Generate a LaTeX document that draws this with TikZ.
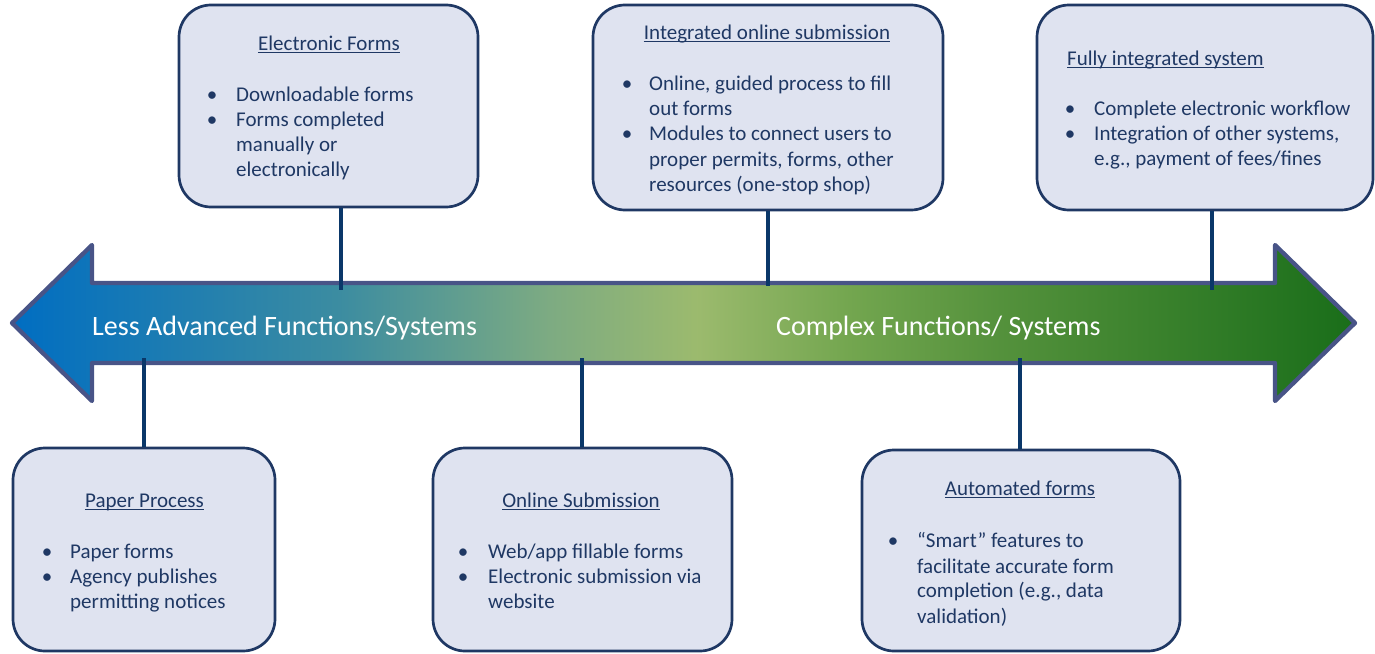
\documentclass[tikz,border=0pt]{standalone}
\usepackage{fontspec}
\setmainfont{Carlito}
\definecolor{navy}{RGB}{31,56,100}
\definecolor{boxfill}{RGB}{223,227,240}
\definecolor{arrowline}{RGB}{72,84,135}
\definecolor{connc}{RGB}{10,55,105}
\pgfdeclarehorizontalshading{arrowshade}{100bp}{rgb(0bp)=(0,0.43,0.76); rgb(25bp)=(0,0.43,0.76); rgb(37.2bp)=(0.235,0.55,0.63); rgb(45bp)=(0.49,0.67,0.51); rgb(50.5bp)=(0.61,0.73,0.43); rgb(56.2bp)=(0.45,0.65,0.31); rgb(61.75bp)=(0.33,0.57,0.235); rgb(75bp)=(0.1,0.43,0.1); rgb(100bp)=(0.1,0.43,0.1)}
\tikzset{
  infobox/.style={draw=navy, fill=boxfill, line width=2.7pt, rounded corners=32pt, inner sep=0pt},
  txt/.style={inner sep=0pt, text=navy, font=\fontsize{21pt}{25pt}\selectfont},
  bigtxt/.style={inner sep=0pt, text=white, font=\fontsize{28pt}{34pt}\selectfont},
  uline/.style={draw=navy, line width=1.3pt},
  connector/.style={draw=connc, line width=3.4pt},
}
\begin{document}
\begin{tikzpicture}[x=1pt,y=-1pt]
\useasboundingbox (0,0) rectangle (1375,653);
% main double arrow
\path[shade, shading=arrowshade, draw=arrowline, line width=4.3pt, line join=round]
  (12,323) -- (92,245) -- (92,283) -- (1275,283) -- (1275,245) -- (1355,323)
  -- (1275,401) -- (1275,363) -- (92,363) -- (92,401) -- cycle;
\node[bigtxt, anchor=base west] (lessadv) at (92,335) {Less Advanced Functions/Systems};
\node[bigtxt, anchor=base west] (complex) at (776,335) {Complex Functions/ Systems};
% connector end points on the arrow
\coordinate (c1) at (341,290);
\coordinate (c2) at (768,286);
\coordinate (c3) at (1212,290);
\coordinate (c4) at (144,358);
\coordinate (c5) at (582,358);
\coordinate (c6) at (1020,358);
% boxes
\node[infobox, minimum width=299pt, minimum height=202pt] (b1) at (328.5,106) {};
\node[infobox, minimum width=350pt, minimum height=205pt] (b2) at (768,107.5) {};
\node[infobox, minimum width=336pt, minimum height=205pt] (b3) at (1205,107.5) {};
\node[infobox, minimum width=262pt, minimum height=203pt] (b4) at (144,549.5) {};
\node[infobox, minimum width=299pt, minimum height=203pt] (b5) at (582.5,549.5) {};
\node[infobox, minimum width=318pt, minimum height=201pt] (b6) at (1021,550.5) {};
% connectors
\draw[connector] (c1 |- b1.south) -- (c1);
\draw[connector] (c2 |- b2.south) -- (c2);
\draw[connector] (c3 |- b3.south) -- (c3);
\draw[connector] (c4 |- b4.north) -- (c4);
\draw[connector] (c5 |- b5.north) -- (c5);
\draw[connector] (c6 |- b6.north) -- (c6);
% Box 1: Electronic Forms
\node[txt, anchor=base] (t1) at (329,50) {Electronic Forms};
\draw[uline] ([yshift=-2.5pt]t1.base west) -- ([yshift=-2.5pt]t1.base east);
\node[txt, anchor=base] (b1p1) at (212,101) {\textbullet};
\node[txt, anchor=base west] (b1l1) at (236,101) {Downloadable forms};
\node[txt, anchor=base] (b1p2) at (212,126) {\textbullet};
\node[txt, anchor=base west] (b1l2) at (236,126) {Forms completed};
\node[txt, anchor=base west] (b1l3) at (236,151) {manually or};
\node[txt, anchor=base west] (b1l4) at (236,176) {electronically};
% Box 2: Integrated online submission
\node[txt, anchor=base] (t2) at (767,39) {Integrated online submission};
\draw[uline] ([yshift=-2.5pt]t2.base west) -- ([yshift=-2.5pt]t2.base east);
\node[txt, anchor=base] (b2p1) at (627,90) {\textbullet};
\node[txt, anchor=base west] (b2l1) at (649,90) {Online, guided process to fill};
\node[txt, anchor=base west] (b2l2) at (649,115) {out forms};
\node[txt, anchor=base] (b2p2) at (627,140) {\textbullet};
\node[txt, anchor=base west] (b2l3) at (649,140) {Modules to connect users to};
\node[txt, anchor=base west] (b2l4) at (649,166) {proper permits, forms, other};
\node[txt, anchor=base west] (b2l5) at (649,191) {resources (one-stop shop)};
% Box 3: Fully integrated system
\node[txt, anchor=base west] (t3) at (1067,65) {Fully integrated system};
\draw[uline] ([yshift=-2.5pt]t3.base west) -- ([yshift=-2.5pt]t3.base east);
\node[txt, anchor=base] (b3p1) at (1070,115) {\textbullet};
\node[txt, anchor=base west] (b3l1) at (1094,115) {Complete electronic workflow};
\node[txt, anchor=base] (b3p2) at (1070,140) {\textbullet};
\node[txt, anchor=base west] (b3l2) at (1094,140) {Integration of other systems,};
\node[txt, anchor=base west] (b3l3) at (1094,165) {e.g., payment of fees/fines};
% Box 4: Paper Process
\node[txt, anchor=base] (t4) at (144.5,507) {Paper Process};
\draw[uline] ([yshift=-2.5pt]t4.base west) -- ([yshift=-2.5pt]t4.base east);
\node[txt, anchor=base] (b4p1) at (47,558) {\textbullet};
\node[txt, anchor=base west] (b4l1) at (70,558) {Paper forms};
\node[txt, anchor=base] (b4p2) at (47,583) {\textbullet};
\node[txt, anchor=base west] (b4l2) at (70,583) {Agency publishes};
\node[txt, anchor=base west] (b4l3) at (70,608) {permitting notices};
% Box 5: Online Submission
\node[txt, anchor=base] (t5) at (581,507) {Online Submission};
\draw[uline] ([yshift=-2.5pt]t5.base west) -- ([yshift=-2.5pt]t5.base east);
\node[txt, anchor=base] (b5p1) at (463,558) {\textbullet};
\node[txt, anchor=base west] (b5l1) at (488,558) {Web/app fillable forms};
\node[txt, anchor=base] (b5p2) at (463,583) {\textbullet};
\node[txt, anchor=base west] (b5l2) at (488,583) {Electronic submission via};
\node[txt, anchor=base west] (b5l3) at (488,608) {website};
% Box 6: Automated forms
\node[txt, anchor=base] (t6) at (1020,495) {Automated forms};
\draw[uline] ([yshift=-2.5pt]t6.base west) -- ([yshift=-2.5pt]t6.base east);
\node[txt, anchor=base] (b6p1) at (893,547) {\textbullet};
\node[txt, anchor=base west] (b6l1) at (917,547) {“Smart” features to};
\node[txt, anchor=base west] (b6l2) at (917,573) {facilitate accurate form};
\node[txt, anchor=base west] (b6l3) at (917,597) {completion (e.g., data};
\node[txt, anchor=base west] (b6l4) at (917,623) {validation)};
\end{tikzpicture}
\end{document}
